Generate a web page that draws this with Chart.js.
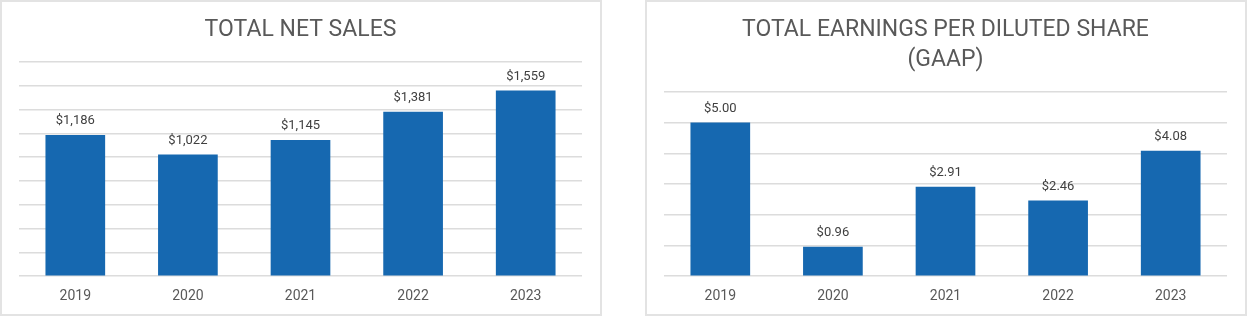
<!DOCTYPE html>
<html lang="en">
<head>
  <meta charset="UTF-8">
  <title>Net Sales and EPS</title>
  <script src="https://cdn.jsdelivr.net/npm/chart.js"></script>
  <style>
    body {
      margin: 0;
      background-color: #ffffff;
      font-family: Roboto, Arial, sans-serif;
    }
    .panel {
      position: absolute;
      top: 0;
      width: 598px;
      height: 312px;
      border: 2px solid #e3e3e3;
    }
    .panel canvas { display: block; }
    #salesPanel { left: 0; }
    #epsPanel { left: 645px; }
  </style>
</head>
<body>
  <div class="panel" id="salesPanel"><canvas id="salesChart" width="598" height="312"></canvas></div>
  <div class="panel" id="epsPanel"><canvas id="epsChart" width="598" height="312"></canvas></div>

  <script>
    const years = ['2019', '2020', '2021', '2022', '2023'];
    const netSales = [1186, 1022, 1145, 1381, 1559];
    const dilutedEps = [5.00, 0.96, 2.91, 2.46, 4.08];

    const BAR_COLOR = '#1668B0';
    const GRID_COLOR = '#dcdcdc';
    const TEXT_COLOR = '#595959';
    const FONT = 'Roboto, Arial, sans-serif';

    // writes the value above each bar
    const barLabels = {
      id: 'barLabels',
      afterDatasetsDraw(chart, args, opts) {
        const ctx = chart.ctx;
        const meta = chart.getDatasetMeta(0);
        const values = chart.data.datasets[0].data;
        ctx.save();
        ctx.font = '13px ' + FONT;
        ctx.fillStyle = '#404040';
        ctx.textAlign = 'center';
        ctx.textBaseline = 'middle';
        meta.data.forEach((bar, i) => {
          ctx.fillText(opts.format(values[i]), bar.x, bar.y - 14);
        });
        ctx.restore();
      }
    };

    function makeChart(id, values, title, max, step, format, titleGap) {
      const ctx = document.getElementById(id).getContext('2d');
      return new Chart(ctx, {
        type: 'bar',
        data: {
          labels: years,
          datasets: [{
            data: values,
            backgroundColor: BAR_COLOR,
            barPercentage: 0.53,
            categoryPercentage: 1.0
          }]
        },
        options: {
          responsive: false,
          animation: false,
          // x tick padding is counted twice when the axis is sized, hence the negative bottom
          layout: { padding: { left: 17, right: 18, top: 13, bottom: -3 } },
          plugins: {
            legend: { display: false },
            tooltip: { enabled: false },
            title: {
              display: true,
              text: title,
              color: TEXT_COLOR,
              font: { size: 23, weight: 'normal', family: FONT, lineHeight: 1.3 },
              padding: { top: 0, bottom: titleGap }
            },
            barLabels: { format: format }
          },
          scales: {
            x: {
              grid: { display: false, drawTicks: false },
              border: { display: false },
              ticks: {
                color: TEXT_COLOR,
                font: { size: 14, family: FONT },
                padding: 12
              }
            },
            y: {
              min: 0,
              max: max,
              ticks: { display: false, stepSize: step },
              grid: { color: GRID_COLOR, lineWidth: 1.5, drawTicks: false },
              border: { display: false }
            }
          }
        },
        plugins: [barLabels]
      });
    }

    makeChart('salesChart', netSales, 'TOTAL NET SALES', 1800, 200,
      v => '$' + v.toLocaleString('en-US'), 17);

    makeChart('epsChart', dilutedEps, ['TOTAL EARNINGS PER DILUTED SHARE', '(GAAP)'], 6, 1,
      v => '$' + v.toFixed(2), 17);
  </script>
</body>
</html>
